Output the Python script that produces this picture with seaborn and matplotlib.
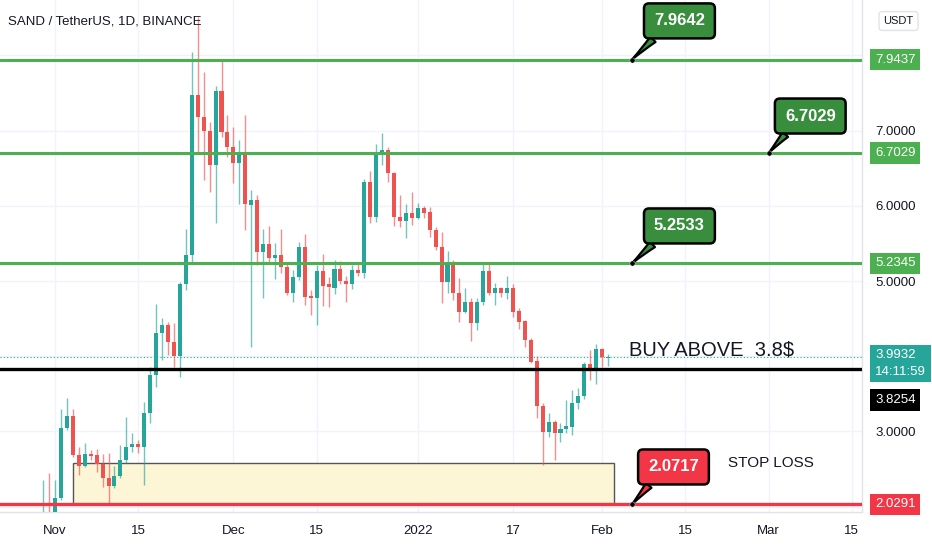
import matplotlib
matplotlib.use("Agg")
import matplotlib.pyplot as plt
import matplotlib.dates as mdates
import matplotlib.patches as patches
import matplotlib.transforms as transforms
import seaborn as sns
import pandas as pd
import numpy as np

# daily candles SAND/USDT
dates = pd.date_range("2021-10-30", periods=96, freq="D")
opens = [1.10, 1.70, 1.75, 2.116, 3.047, 3.206, 2.687, 2.541, 2.701, 2.687,
         2.568, 2.382, 2.275, 2.408, 2.621, 2.794, 2.834, 2.794, 3.246, 3.751,
         4.310, 4.416, 4.190, 4.004, 4.961, 5.347, 7.475, 7.182, 6.996, 6.544,
         7.528, 6.983, 6.783, 6.570, 6.703, 6.012, 6.078, 5.387, 5.493, 5.307,
         5.347, 5.187, 4.842, 5.055, 5.453, 4.789, 4.775, 5.134, 4.961, 4.908,
         5.161, 5.001, 4.961, 5.148, 5.108, 6.318, 5.852, 6.703, 6.743, 6.437,
         5.852, 5.799, 5.906, 5.839, 5.972, 5.920, 5.679, 5.453, 4.988, 5.241,
         4.842, 4.589, 4.722, 4.443, 4.722, 5.134, 4.842, 4.908, 4.842, 4.908,
         4.602, 4.469, 4.217, 3.938, 3.340, 2.993, 3.126, 2.980, 3.033, 3.060,
         3.379, 3.472, 3.897, 3.844, 4.097, 3.975]
highs = [2.355, 2.448, 2.355, 3.299, 3.445, 3.299, 2.794, 2.847, 2.754, 2.767,
         2.701, 2.714, 2.541, 2.820, 3.193, 2.980, 2.887, 3.392, 3.858, 4.695,
         4.509, 4.456, 4.443, 4.990, 5.693, 8.047, 8.512, 7.781, 7.116, 7.594,
         7.940, 7.209, 7.049, 6.876, 7.209, 6.211, 6.145, 5.693, 5.733, 5.507,
         5.693, 5.241, 5.148, 5.520, 5.626, 4.882, 5.214, 5.360, 5.055, 5.281,
         5.267, 5.068, 5.214, 5.254, 6.358, 6.464, 6.823, 6.969, 6.783, 6.450,
         6.145, 6.025, 6.185, 6.038, 5.999, 5.985, 5.719, 5.653, 5.400, 5.281,
         5.041, 4.908, 4.775, 4.775, 5.241, 5.241, 4.975, 4.922, 5.068, 4.961,
         4.642, 4.483, 4.244, 4.004, 3.379, 3.246, 3.153, 3.113, 3.419, 3.552,
         3.578, 3.925, 4.084, 4.164, 4.110, 4.031]
lows = [1.00, 1.40, 1.60, 2.090, 3.020, 2.660, 2.422, 2.528, 2.621, 2.461,
        2.262, 2.035, 2.249, 2.382, 2.581, 2.727, 2.714, 2.288, 3.113, 3.592,
        3.951, 4.017, 3.858, 3.725, 4.882, 5.241, 6.703, 6.344, 6.185, 5.773,
        6.916, 6.650, 6.305, 6.025, 5.679, 4.124, 5.214, 4.775, 5.241, 5.028,
        5.108, 4.815, 4.722, 5.015, 4.682, 4.549, 4.416, 4.669, 4.656, 4.828,
        4.961, 4.722, 4.895, 5.068, 5.041, 5.773, 5.786, 6.544, 6.318, 5.733,
        5.719, 5.573, 5.746, 5.826, 5.839, 5.586, 5.414, 4.709, 4.842, 4.749,
        4.456, 4.576, 4.204, 4.350, 4.682, 4.815, 4.682, 4.789, 4.762, 4.523,
        4.363, 4.124, 3.911, 3.180, 2.555, 2.927, 2.621, 2.860, 2.980, 2.953,
        3.299, 3.432, 3.682, 3.632, 3.858, 3.871]
closes = [1.60, 1.55, 2.116, 3.047, 3.206, 2.687, 2.541, 2.701, 2.674, 2.568,
          2.382, 2.275, 2.408, 2.621, 2.794, 2.834, 2.794, 3.246, 3.751, 4.310,
          4.416, 4.190, 4.004, 4.961, 5.347, 7.475, 7.182, 6.996, 6.544, 7.528,
          6.983, 6.783, 6.570, 6.703, 6.025, 6.078, 5.387, 5.493, 5.307, 5.347,
          5.187, 4.842, 5.055, 5.453, 4.789, 4.775, 5.134, 4.935, 4.922, 5.161,
          5.001, 4.961, 5.148, 5.108, 6.318, 5.852, 6.703, 6.743, 6.437, 5.852,
          5.799, 5.906, 5.839, 5.972, 5.906, 5.679, 5.453, 4.988, 5.241, 4.842,
          4.589, 4.722, 4.443, 4.722, 5.134, 4.842, 4.908, 4.842, 4.908, 4.589,
          4.456, 4.217, 3.925, 3.340, 2.993, 3.126, 2.980, 3.033, 3.073, 3.379,
          3.472, 3.897, 3.844, 4.097, 3.986, 3.9932]

# drawn levels
green_levels = [7.9437, 6.7029, 5.2345]
buy_level = 3.8254
stop_level = 2.0291
last_price = 3.9932
countdown = "14:11:59"

# callouts: label, anchor date/price, text date/price
callout_labels = ["7.9642", "6.7029", "5.2533", "2.0717"]
callout_dates = ["2022-02-06", "2022-03-01", "2022-02-06", "2022-02-06"]
callout_prices = [7.9437, 6.7029, 5.2345, 2.0291]
callout_text_dates = ["2022-02-14", "2022-03-08", "2022-02-14", "2022-02-13"]
callout_text_prices = [8.46, 7.195, 5.733, 2.528]

zone_start, zone_end = "2021-11-04", "2022-02-03"
zone_top = 2.581

tick_dates = ["2021-11-01", "2021-11-15", "2021-12-01", "2021-12-15", "2022-01-01",
              "2022-01-17", "2022-02-01", "2022-02-15", "2022-03-01", "2022-03-15"]
tick_labels = ["Nov", "15", "Dec", "15", "2022", "17", "Feb", "15", "Mar", "15"]
price_ticks = [2, 3, 4, 5, 6, 7, 8]
price_tick_labels = ["", "3.0000", "", "5.0000", "6.0000", "7.0000", ""]

UP = "#26a69a"
DOWN = "#ef5350"
LEVEL_GREEN = "#4caf50"
CALL_GREEN = "#388e3c"
STOP_RED = "#f23645"
TXT = "#131722"

sns.set_theme(style="white")
plt.rcParams["font.family"] = ["Liberation Sans Narrow", "Liberation Sans", "DejaVu Sans"]

fig = plt.figure(figsize=(9.32, 5.5), dpi=100)
ax = fig.add_axes([0, 38 / 550, 862 / 932, 512 / 550])

x = mdates.date2num(dates)
o = np.array(opens)
h = np.array(highs)
l = np.array(lows)
c = np.array(closes)
cols = np.where(c >= o, UP, DOWN)

ax.vlines(x, l, h, colors=cols, lw=1, alpha=0.65, zorder=3)
body = np.maximum(np.abs(c - o), 0.02)
ax.bar(x, body, bottom=np.minimum(o, c), width=0.68, color=cols, lw=0, zorder=4)

# yellow zone
z0 = mdates.date2num(pd.Timestamp(zone_start))
z1 = mdates.date2num(pd.Timestamp(zone_end))
ax.add_patch(patches.Rectangle((z0, stop_level), z1 - z0, zone_top - stop_level,
                               fc="#fcf6d6", ec="#555555", lw=1, zorder=2))

for lv in green_levels:
    ax.axhline(lv, color=LEVEL_GREEN, lw=2.2, zorder=5)
ax.axhline(buy_level, color="black", lw=2.4, zorder=5)
ax.axhline(stop_level, color=STOP_RED, lw=2.4, zorder=5)
ax.axhline(last_price, color=UP, lw=0.8, ls=(0, (1, 2)), zorder=5)

# callouts with a wedge tail
for i, lab in enumerate(callout_labels):
    fc = STOP_RED if callout_prices[i] == stop_level else CALL_GREEN
    xa = mdates.date2num(pd.Timestamp(callout_dates[i]))
    xt = mdates.date2num(pd.Timestamp(callout_text_dates[i]))
    ax.annotate(lab, xy=(xa, callout_prices[i]), xytext=(xt, callout_text_prices[i]),
                ha="center", va="center", color="white", fontsize=12, fontweight="bold",
                bbox=dict(boxstyle="round,pad=0.6,rounding_size=0.3", fc=fc, ec="black", lw=1.8),
                arrowprops=dict(arrowstyle="wedge,tail_width=0.45,shrink_factor=0.4",
                                fc=fc, ec="black", lw=1.6, relpos=(0.2, 0.0),
                                shrinkA=0, shrinkB=0),
                zorder=8, annotation_clip=False)
dots = pd.DataFrame({"x": mdates.date2num(pd.to_datetime(callout_dates)), "y": callout_prices})
sns.scatterplot(data=dots, x="x", y="y", color="black", s=14, zorder=9, ax=ax, legend=False)

ax.text(mdates.date2num(pd.Timestamp("2022-02-05 12:00")), 4.084, "BUY ABOVE  3.8$",
        fontsize=14.5, color=TXT, ha="left", va="center", zorder=8)
ax.text(mdates.date2num(pd.Timestamp("2022-02-22 05:00")), 2.581, "STOP LOSS",
        fontsize=11, color=TXT, ha="left", va="center", zorder=8)

# axes
nov1 = mdates.date2num(pd.Timestamp("2021-11-01"))
ax.set_xlim(nov1 - 9.25, nov1 + 135.7)
ax.set_ylim(1.929, 8.738)
ax.set_xticks(mdates.date2num(pd.to_datetime(tick_dates)))
ax.set_xticklabels(tick_labels)
ax.set_yticks(price_ticks)
ax.set_yticklabels(price_tick_labels)
ax.yaxis.tick_right()
ax.tick_params(axis="both", length=0, labelsize=9.5, colors=TXT)
ax.tick_params(axis="y", pad=9.5)
ax.tick_params(axis="x", pad=9)
ax.grid(True, color="#f0f3fa", lw=1)
ax.set_axisbelow(True)
ax.set_xlabel("")
ax.set_ylabel("")
for s in ["top", "left"]:
    ax.spines[s].set_visible(False)
for s in ["right", "bottom"]:
    ax.spines[s].set_color("#e0e3eb")
    ax.spines[s].set_linewidth(1)

# price tags on the right scale
trans = transforms.blended_transform_factory(ax.transAxes, ax.transData)


def price_tag(price, text, bg, dy=0, va="center"):
    ax.annotate(text, xy=(1, price), xycoords=trans, xytext=(9.4, dy),
                textcoords="offset points", ha="left", va=va, color="white",
                fontsize=9.5, linespacing=1.5,
                bbox=dict(boxstyle="square,pad=0.35", fc=bg, ec="none"),
                annotation_clip=False, zorder=10)


for lv in green_levels:
    price_tag(lv, "%.4f" % lv, LEVEL_GREEN)
price_tag(last_price, "%.4f\n%s" % (last_price, countdown), UP, dy=5.5, va="top")
price_tag(buy_level, "%.4f" % buy_level, "black", dy=-22)
price_tag(stop_level, "%.4f" % stop_level, STOP_RED)

fig.text(8 / 932, 1 - 22 / 550, "SAND / TetherUS, 1D, BINANCE", fontsize=9.5,
         color=TXT, ha="left", va="center")
fig.text(898.5 / 932, 1 - 21 / 550, "USDT", fontsize=8, color=TXT, ha="center", va="center",
         bbox=dict(boxstyle="round,pad=0.4,rounding_size=0.3", fc="white", ec="#e0e3eb", lw=1))

fig.savefig("out.png", dpi=100)
